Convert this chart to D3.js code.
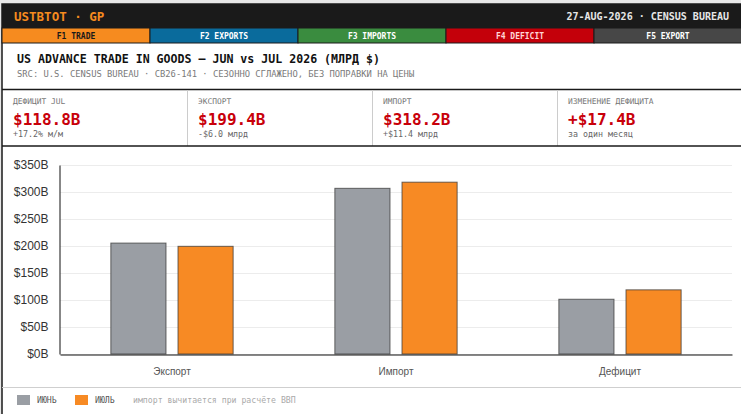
<!DOCTYPE html>
<html>
<head>
<meta charset="utf-8">
<script src="https://cdn.jsdelivr.net/npm/d3@7"></script>
<style>
  html, body { margin: 0; padding: 0; background: #e8e8e8; overflow: hidden; }
  svg { display: block; }
  .mono { font-family: "DejaVu Sans Mono", "Liberation Mono", monospace; }
  .sans { font-family: "Liberation Sans", Arial, sans-serif; }
</style>
</head>
<body>
<svg id="page" width="741" height="414"></svg>
<script>
// data
var categories = ["Экспорт", "Импорт", "Дефицит"]
var series_names = ["ИЮНЬ", "ИЮЛЬ"]
var jun_values = [205.4, 306.8, 101.4]
var jul_values = [199.4, 318.2, 118.8]
var y_ticks = [0, 50, 100, 150, 200, 250, 300, 350]
var tab_labels = ["F1 TRADE", "F2 EXPORTS", "F3 IMPORTS", "F4 DEFICIT", "F5 EXPORT"]
var kpi_labels = ["ДЕФИЦИТ JUL", "ЭКСПОРТ", "ИМПОРТ", "ИЗМЕНЕНИЕ ДЕФИЦИТА"]
var kpi_values = ["$118.8B", "$199.4B", "$318.2B", "+$17.4B"]
var kpi_subs = ["+17.2% м/м", "-$6.0 млрд", "+$11.4 млрд", "за один месяц"]

var tab_fill = ["#f68b1f", "#0a6b9c", "#3a8c3f", "#c4000a", "#474747"]
var tab_text = ["#1a1a1a", "#ffffff", "#ffffff", "#ffd6d6", "#ffffff"]
var series_colors = ["#9a9ea4", "#f78a24"]

var svg = d3.select("#page")

// frame
var fx = 2, fy = 4, fw = 740
svg.append("rect").attr("x", fx).attr("y", fy).attr("width", fw).attr("height", 420)
    .attr("fill", "#fff").attr("stroke", "#1a1a1a").attr("stroke-width", 1.5)

// top bar
svg.append("rect").attr("x", fx).attr("y", fy).attr("width", fw).attr("height", 24).attr("fill", "#1a1a1a")
svg.append("text").attr("class", "mono").attr("x", 14).attr("y", 21)
    .attr("font-size", "12.5px").attr("font-weight", "bold").attr("fill", "#f68b1f")
    .text("USTBTOT · GP")
svg.append("text").attr("class", "mono").attr("x", 729).attr("y", 20)
    .attr("text-anchor", "end").attr("font-size", "10px").attr("font-weight", "bold").attr("fill", "#e6e6e6")
    .text("27-AUG-2026 · CENSUS BUREAU")

// function key tabs
var tabs = d3.scaleBand().domain(tab_labels).range([fx, fx + fw])
var tab_g = svg.selectAll("g.tab").data(tab_labels).join("g").attr("class", "tab")
tab_g.append("rect")
    .attr("x", d => tabs(d)).attr("y", 28).attr("width", tabs.bandwidth()).attr("height", 15)
    .attr("fill", (d, i) => tab_fill[i]).attr("stroke", "#1a1a1a").attr("stroke-width", 1)
tab_g.append("text").attr("class", "mono")
    .attr("x", d => tabs(d) + tabs.bandwidth() / 2).attr("y", 39)
    .attr("text-anchor", "middle").attr("font-size", "8px").attr("font-weight", "bold")
    .attr("fill", (d, i) => tab_text[i]).text(d => d)

// title block
svg.append("text").attr("class", "mono").attr("x", 17).attr("y", 63)
    .attr("font-size", "11.6px").attr("font-weight", "bold").attr("fill", "#111")
    .text("US ADVANCE TRADE IN GOODS — JUN vs JUL 2026 (МЛРД $)")
svg.append("text").attr("class", "mono").attr("x", 17).attr("y", 77)
    .attr("font-size", "8.8px").attr("fill", "#7a7a7a")
    .text("SRC: U.S. CENSUS BUREAU · CB26-141 · СЕЗОННО СГЛАЖЕНО, БЕЗ ПОПРАВКИ НА ЦЕНЫ")
svg.append("line").attr("x1", fx).attr("x2", fx + fw).attr("y1", 89.5).attr("y2", 89.5)
    .attr("stroke", "#1a1a1a").attr("stroke-width", 1.5)

// KPI strip
var kpi = d3.scaleBand().domain(d3.range(4)).range([fx, fx + fw])
var kpi_g = svg.selectAll("g.kpi").data(d3.range(4)).join("g").attr("class", "kpi")
kpi_g.filter(i => i > 0).append("line")
    .attr("x1", i => kpi(i) + 0.5).attr("x2", i => kpi(i) + 0.5).attr("y1", 90).attr("y2", 146)
    .attr("stroke", "#cccccc")
kpi_g.append("text").attr("class", "mono").attr("x", i => kpi(i) + 11).attr("y", 104)
    .attr("font-size", "7.9px").attr("fill", "#777").text(i => kpi_labels[i])
kpi_g.append("text").attr("class", "mono").attr("x", i => kpi(i) + 11).attr("y", 125)
    .attr("font-size", "16px").attr("font-weight", "bold").attr("fill", "#c8000a").text(i => kpi_values[i])
kpi_g.append("text").attr("class", "mono").attr("x", i => kpi(i) + 11).attr("y", 137)
    .attr("font-size", "8.3px").attr("fill", "#666").text(i => kpi_subs[i])
svg.append("line").attr("x1", fx).attr("x2", fx + fw).attr("y1", 146).attr("y2", 146)
    .attr("stroke", "#1a1a1a").attr("stroke-width", 1.5)

// chart
var y = d3.scaleLinear().domain([0, 350]).range([354, 165])
var x0 = d3.scaleBand().domain(categories).range([60, 732])
var x1 = d3.scaleBand().domain(series_names).range([0, x0.bandwidth()]).paddingInner(0.164).paddingOuter(0.75)

svg.append("g").selectAll("line").data(y_ticks).join("line")
    .attr("x1", 60).attr("x2", 732).attr("y1", d => Math.round(y(d)) + 0.5).attr("y2", d => Math.round(y(d)) + 0.5)
    .attr("stroke", "#ececec")

var yAxis = svg.append("g").attr("transform", "translate(59.5,0)")
    .call(d3.axisLeft(y).tickValues(y_ticks).tickSize(0).tickPadding(11).tickFormat(d => "$" + d + "B"))
yAxis.select(".domain").attr("stroke", "#111")
yAxis.selectAll("text").attr("class", "sans").attr("font-size", "12px").attr("fill", "#333")

var groups = svg.append("g").selectAll("g").data(categories).join("g")
    .attr("transform", d => "translate(" + x0(d) + ",0)")
groups.selectAll("rect")
    .data((d, i) => [{ s: series_names[0], v: jun_values[i], c: 0 }, { s: series_names[1], v: jul_values[i], c: 1 }])
    .join("rect")
    .attr("x", d => x1(d.s) + 0.5).attr("width", x1.bandwidth() - 1)
    .attr("y", d => y(d.v)).attr("height", d => y(0) - y(d.v))
    .attr("fill", d => series_colors[d.c])
    .attr("stroke", "#3a3a3a").attr("stroke-opacity", 0.75).attr("stroke-width", 1)

var xAxis = svg.append("g").attr("transform", "translate(0,354.5)")
    .call(d3.axisBottom(x0).tickSize(0).tickPadding(13))
xAxis.select(".domain").attr("stroke", "#111")
xAxis.selectAll("text").attr("class", "sans").attr("font-size", "10px").attr("fill", "#555")

// legend strip
svg.append("line").attr("x1", fx).attr("x2", fx + fw).attr("y1", 387.5).attr("y2", 387.5)
    .attr("stroke", "#cfcfcf")
var legend_x = [17, 75]
var leg = svg.selectAll("g.leg").data(series_names).join("g").attr("class", "leg")
leg.append("rect").attr("x", (d, i) => legend_x[i]).attr("y", 395).attr("width", 13).attr("height", 10)
    .attr("fill", (d, i) => series_colors[i])
leg.append("text").attr("class", "mono").attr("x", (d, i) => legend_x[i] + 20).attr("y", 403)
    .attr("font-size", "8.2px").attr("fill", "#555").text(d => d)
svg.append("text").attr("class", "mono").attr("x", 133).attr("y", 403)
    .attr("font-size", "8.2px").attr("fill", "#aaa").text("импорт вычитается при расчёте ВВП")
</script>
</body>
</html>
